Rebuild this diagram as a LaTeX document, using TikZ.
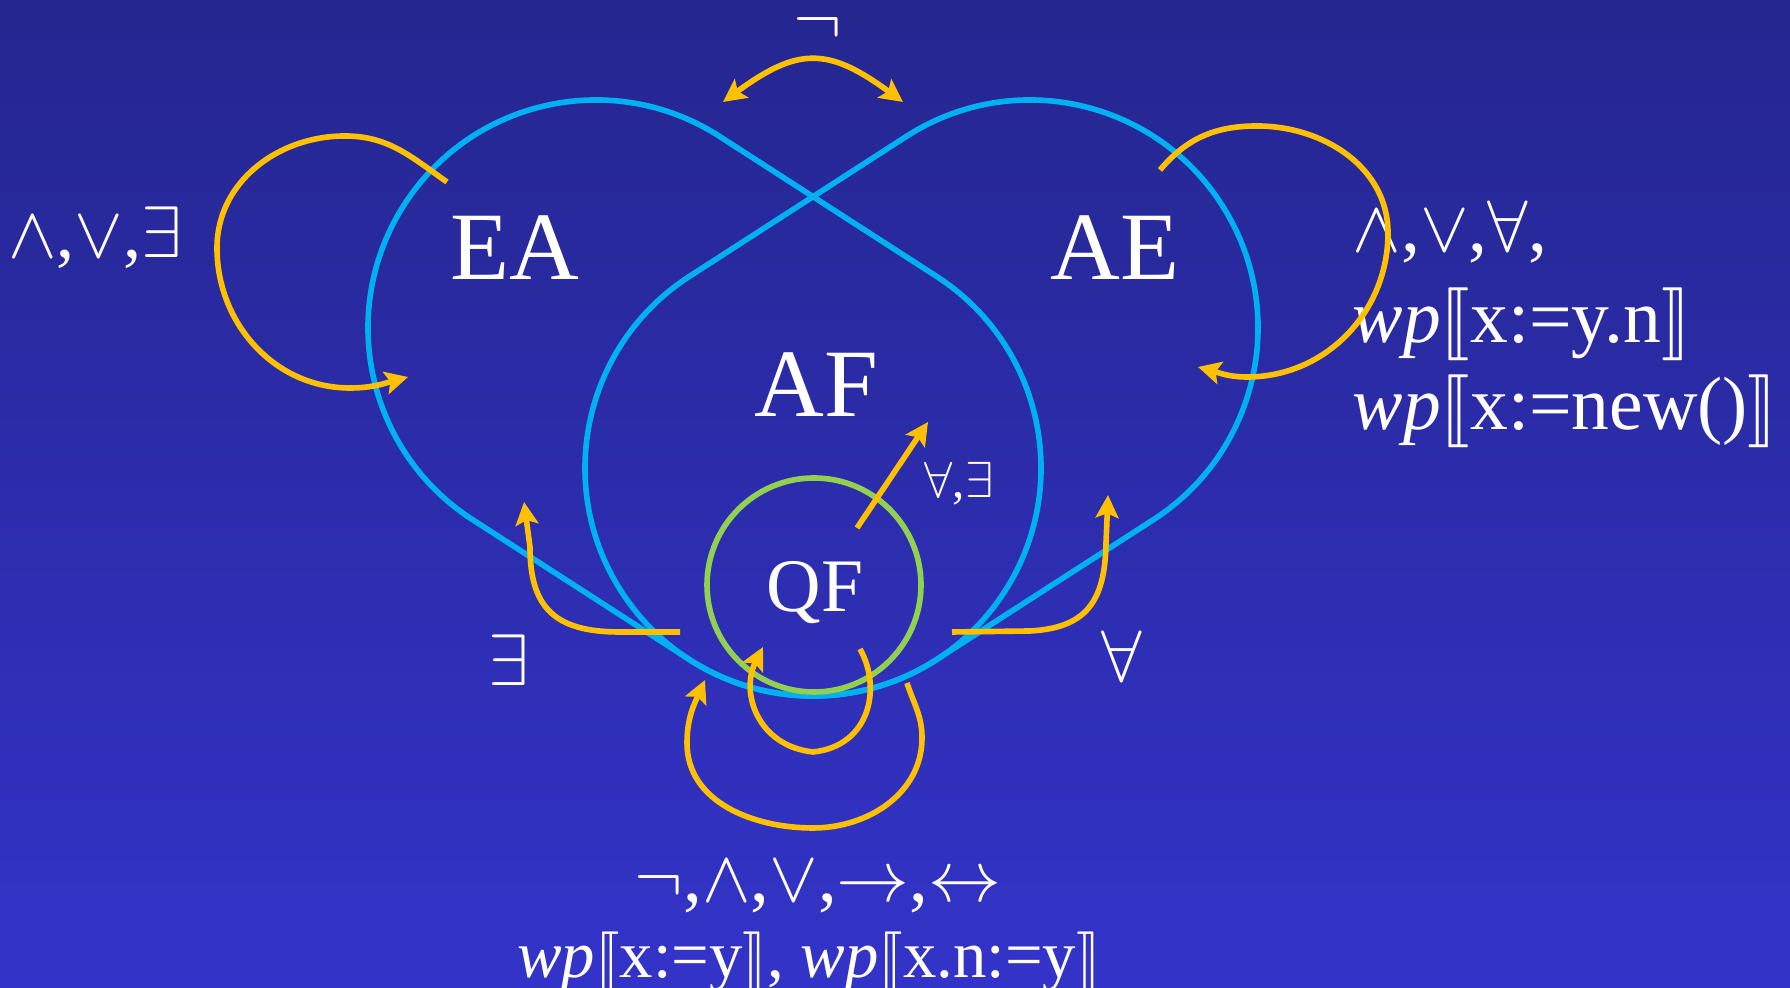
\documentclass[tikz,border=0pt]{standalone}
\usepackage{fontspec}
\setmainfont{Liberation Serif}
\usepackage{stmaryrd}
\usepackage{tikz}
\usetikzlibrary{arrows.meta}
\definecolor{bgtop}{RGB}{37,38,143}
\definecolor{bgbot}{RGB}{51,51,201}
\definecolor{lobecolor}{RGB}{0,176,240}
\definecolor{qfcolor}{RGB}{146,208,80}
\definecolor{flowcolor}{RGB}{255,192,0}
\newcommand{\lobeR}{2.28}
\tikzset{
  >={Stealth[length=6.5pt,width=6.5pt,inset=1.3pt]},
  lobe/.style={draw=lobecolor, line width=1.6pt},
  core/.style={draw=qfcolor, line width=1.6pt},
  flow/.style={->, draw=flowcolor, line width=1.6pt},
  cls/.style={text=white, font=\fontsize{27.5}{33}\selectfont, inner sep=0pt, anchor=base},
  qfl/.style={text=white, font=\fontsize{21.5}{26}\selectfont, inner sep=0pt, anchor=base},
  ops/.style={text=white, font=\fontsize{20.5}{25}\selectfont, inner sep=0pt, anchor=base},
  opsw/.style={ops, font=\fontsize{21.5}{26}\selectfont, anchor=base west},
  sml/.style={text=white, font=\fontsize{14}{17}\selectfont, inner sep=0pt, anchor=base},
}
\begin{document}
\begin{tikzpicture}
\shade[top color=bgtop, bottom color=bgbot] (0,0) rectangle (17.9,9.88);
\useasboundingbox (0,0) rectangle (17.9,9.88);
\coordinate (cEA) at (5.96,6.60);
\coordinate (cAF) at (8.13,5.20);
\coordinate (cAE) at (10.30,6.60);
% the two lobes
\draw[lobe] ([shift={(57.2:\lobeR)}]cEA) arc[start angle=57.2, end angle=237.2, radius=\lobeR]
  -- ([shift={(237.2:\lobeR)}]cAF) arc[start angle=237.2, end angle=417.2, radius=\lobeR] -- cycle;
\draw[lobe] ([shift={(-57.2:\lobeR)}]cAE) arc[start angle=-57.2, end angle=122.8, radius=\lobeR]
  -- ([shift={(122.8:\lobeR)}]cAF) arc[start angle=122.8, end angle=302.8, radius=\lobeR] -- cycle;
\draw[core] (8.14,4.03) circle[radius=1.07];
% class names
\node[cls] (ea) at (5.15,7.08) {EA};
\node[cls] (ae) at (11.15,7.08) {AE};
\node[cls] (af) at (8.165,5.71) {AF};
\node[qfl] (qf) at (8.15,3.76) {QF};
% operation labels
\node[ops, anchor=center] (negLbl) at (8.18,9.60) {$\neg$};
\node[ops] (opsEA) at (0.95,7.30) {$\wedge$,$\vee$,$\exists$};
\node[opsw] (opsAE) at (13.52,7.36) {$\wedge$,$\vee$,$\forall$,};
\node[opsw] (wpLoad) at (13.52,6.45) {\textit{wp}$\llbracket$x:=y.n$\rrbracket$};
\node[opsw] (wpNew) at (13.52,5.58) {\textit{wp}$\llbracket$x:=new()$\rrbracket$};
\node[ops, font=\fontsize{21.3}{25}\selectfont] (opsQF) at (8.18,0.86) {$\neg$,$\wedge$,$\vee$,$\rightarrow$,$\leftrightarrow$};
\node[ops, font=\fontsize{19}{23}\selectfont] (wpQF) at (8.09,0.10) {\textit{wp}$\llbracket$x:=y$\rrbracket$, \textit{wp}$\llbracket$x.n:=y$\rrbracket$};
\node[ops] (exLbl) at (5.085,3.02) {$\exists$};
\node[ops] (faLbl) at (11.22,3.06) {$\forall$};
\node[sml] (qfafLbl) at (9.59,4.90) {$\forall$,$\exists$};
% arrow ends
\coordinate (negL) at (7.23,8.86);
\coordinate (negR) at (9.03,8.86);
\coordinate (eaOut) at (4.47,8.06);
\coordinate (eaIn) at (4.08,6.11);
\coordinate (aeOut) at (11.60,8.18);
\coordinate (aeIn) at (11.98,6.21);
\coordinate (exOut) at (6.80,3.56);
\coordinate (exIn) at (5.24,4.86);
\coordinate (faOut) at (9.52,3.56);
\coordinate (faIn) at (11.08,4.93);
\coordinate (qfafOut) at (8.57,4.60);
\coordinate (qfafIn) at (9.28,5.66);
\coordinate (qfOut) at (8.60,3.39);
\coordinate (qfIn) at (7.63,3.41);
\coordinate (afOut) at (9.07,3.05);
\coordinate (afIn) at (7.05,3.08);
% transitions
\draw[flow, <->] (negL) .. controls +(0.75,0.55) and +(-0.75,0.55) .. (negR);
\draw[flow] (eaOut) to[out=145,in=0] (3.45,8.52) to[out=180,in=90] (2.17,7.40)
  to[out=-90,in=180] (3.50,6.00) to[out=0,in=195] (eaIn);
\draw[flow] (aeOut) to[out=50,in=180] (12.57,8.62) to[out=0,in=90] (13.88,7.55)
  to[out=-90,in=0] (12.47,6.11) to[out=180,in=-15] (aeIn);
\draw[flow] (exOut) -- (6.20,3.56) .. controls (5.55,3.56) and (5.30,3.80) .. (5.30,4.41) -- (exIn);
\draw[flow] (faOut) -- (10.30,3.57) .. controls (10.85,3.60) and (11.05,3.85) .. (11.06,4.45) -- (faIn);
\draw[flow] (qfafOut) -- (qfafIn);
\draw[flow] (qfOut) .. controls (8.82,3.00) and (8.70,2.42) .. (8.13,2.36)
  .. controls (7.58,2.42) and (7.40,2.95) .. (qfIn);
\draw[flow] (afOut) to[out=-72,in=90] (9.22,2.50) to[out=-90,in=0] (8.13,1.60)
  to[out=180,in=-90] (6.87,2.45) to[out=90,in=-114] (afIn);
\end{tikzpicture}
\end{document}
